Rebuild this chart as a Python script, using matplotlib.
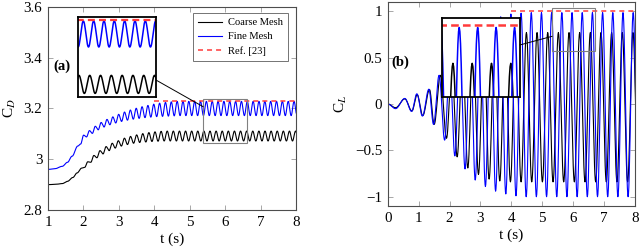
"""
Drag / lift coefficient history, coarse vs fine mesh, with zoom insets.
"""
import numpy as np
import matplotlib
matplotlib.use('Agg')
import matplotlib.pyplot as plt
from matplotlib.patches import Rectangle, ConnectionPatch

plt.rcParams['font.family'] = ['Liberation Serif', 'DejaVu Serif']
plt.rcParams['mathtext.fontset'] = 'stix'
plt.rcParams['lines.scale_dashes'] = False

# ---------------- data ----------------
# each series: a smooth start (t, value), then alternating extrema
# "first" extremum at t_first + k*period, "second" half a period later,
# steady values used once the transient lists run out.

# (a) C_D, coarse mesh (first = peak, second = trough)
cd_coarse_start_t = [1.0, 1.2, 1.4, 1.55, 1.7, 1.82]
cd_coarse_start_v = [2.900, 2.901, 2.904, 2.913, 2.928, 2.946]
cd_coarse_t_first = 1.95
cd_coarse_period = 0.1725
cd_coarse_first = [2.965, 2.990, 3.015, 3.034, 3.050, 3.063, 3.073, 3.083, 3.090,
                   3.096, 3.101, 3.105, 3.108, 3.110]
cd_coarse_second = [2.968, 2.988, 3.006, 3.021, 3.034, 3.044, 3.052, 3.058, 3.063,
                    3.066, 3.068, 3.070, 3.071, 3.072]
cd_coarse_steady = [3.111, 3.072]

# (a) C_D, fine mesh
cd_fine_start_t = [1.0, 1.2, 1.4, 1.55, 1.68]
cd_fine_start_v = [2.960, 2.963, 2.972, 2.988, 3.012]
cd_fine_t_first = 1.84
cd_fine_period = 0.165
cd_fine_first = [3.052, 3.095, 3.113, 3.130, 3.145, 3.157, 3.167, 3.177, 3.186,
                 3.194, 3.201, 3.207, 3.212, 3.217, 3.221, 3.224, 3.226]
cd_fine_second = [3.060, 3.088, 3.102, 3.116, 3.127, 3.136, 3.143, 3.149, 3.154,
                  3.158, 3.161, 3.164, 3.166, 3.168, 3.169, 3.170, 3.171]
cd_fine_steady = [3.228, 3.172]

cd_ref_t = [4.0, 8.0]
cd_ref_v = [3.23, 3.23]

# (b) C_L, coarse mesh (first = trough, second = peak)
cl_coarse_start_t = [0.0, 0.25, 0.55, 0.78, 0.95, 1.13, 1.35, 1.50, 1.70]
cl_coarse_start_v = [0.0, -0.04, 0.055, -0.075, 0.10, -0.125, 0.155, -0.22, 0.31]
cl_coarse_t_first = 1.90
cl_coarse_period = 0.345
cl_coarse_first = [-0.37, -0.57, -0.69, -0.76, -0.81, -0.83]
cl_coarse_second = [0.42, 0.55, 0.64, 0.70, 0.74, 0.76]
cl_coarse_steady = [-0.84, 0.77]

# (b) C_L, fine mesh
cl_fine_start_t = [0.0, 0.25, 0.55, 0.77, 0.94, 1.12, 1.33, 1.48, 1.66]
cl_fine_start_v = [0.0, -0.05, 0.06, -0.08, 0.11, -0.13, 0.16, -0.22, 0.31]
cl_fine_t_first = 1.84
cl_fine_period = 0.33
cl_fine_first = [-0.39, -0.56, -0.70, -0.82, -0.89, -0.94, -0.97, -0.99]
cl_fine_second = [0.45, 0.60, 0.73, 0.83, 0.90, 0.94, 0.97, 0.98]
cl_fine_steady = [-1.0, 0.985]

cl_ref_t = [4.0, 8.0]
cl_ref_v = [1.0, 1.0]

# zoom windows of the insets
zoom_a_t = [5.38, 6.63]
zoom_a_v = [3.065, 3.236]
zoom_b_t = [5.32, 6.72]
zoom_b_v = [0.57, 1.04]


def build_extrema(start_t, start_v, t_first, period, first, second, steady, t_end=8.0):
    ts, vs = list(start_t), list(start_v)
    k = 0
    while t_first + k * period <= t_end + period:
        ts.append(t_first + k * period)
        vs.append(first[k] if k < len(first) else steady[0])
        ts.append(t_first + (k + 0.5) * period)
        vs.append(second[k] if k < len(second) else steady[1])
        k += 1
    return ts, vs


def smooth(ts, vs, n=14):
    # half-cosine arc between successive extrema
    xs, ys = [], []
    for i in range(len(ts) - 1):
        s = np.linspace(0, 1, n, endpoint=False)
        w = (1 - np.cos(np.pi * s)) / 2
        xs.append(ts[i] + (ts[i + 1] - ts[i]) * s)
        ys.append(vs[i] + (vs[i + 1] - vs[i]) * w)
    xs.append([ts[-1]])
    ys.append([vs[-1]])
    return np.concatenate(xs), np.concatenate(ys)


cdc = smooth(*build_extrema(cd_coarse_start_t, cd_coarse_start_v, cd_coarse_t_first,
                            cd_coarse_period, cd_coarse_first, cd_coarse_second, cd_coarse_steady))
cdf = smooth(*build_extrema(cd_fine_start_t, cd_fine_start_v, cd_fine_t_first,
                            cd_fine_period, cd_fine_first, cd_fine_second, cd_fine_steady))
clc = smooth(*build_extrema(cl_coarse_start_t, cl_coarse_start_v, cl_coarse_t_first,
                            cl_coarse_period, cl_coarse_first, cl_coarse_second, cl_coarse_steady))
clf = smooth(*build_extrema(cl_fine_start_t, cl_fine_start_v, cl_fine_t_first,
                            cl_fine_period, cl_fine_first, cl_fine_second, cl_fine_steady))

BLUE = (0, 0, 1)
RED = '#ff3b3b'
FRAME = '0.3'

fig = plt.figure(figsize=(6.4, 2.5), dpi=100)
ax_a = fig.add_axes([0.075, 0.16, 0.3875, 0.812])
ax_b = fig.add_axes([0.606, 0.176, 0.386, 0.816])


def style(ax):
    for sp in ax.spines.values():
        sp.set_color(FRAME)
        sp.set_linewidth(0.8)
    ax.tick_params(direction='in', top=True, right=True, length=3.5, width=0.6,
                   color='0.6', labelsize=10.8, pad=4)


# ---- (a) C_D ----
ax_a.plot(*cdc, color='black', lw=0.8, label='Coarse Mesh')
ax_a.plot(*cdf, color=BLUE, lw=0.8, label='Fine Mesh')
ax_a.plot(cd_ref_t, cd_ref_v, color=RED, lw=1.1, dashes=(3.6, 2.9), label='Ref. [23]')
ax_a.set_xlim(1, 8)
ax_a.set_ylim(2.8, 3.6)
ax_a.set_xticks(range(1, 9))
ax_a.set_yticks([2.8, 3.0, 3.2, 3.4, 3.6])
ax_a.set_yticklabels(['2.8', '3', '3.2', '3.4', '3.6'])
ax_a.set_xlabel('t (s)', fontsize=11, labelpad=3)
ax_a.set_ylabel(r'C$_D$', fontsize=11, labelpad=4)
style(ax_a)
ax_a.text(1.15, 3.365, '(a)', fontsize=10.5, fontweight='bold', va='center')
leg = ax_a.legend(loc='upper right', bbox_to_anchor=(0.969, 0.972), fontsize=7.6,
                  frameon=True, fancybox=False, edgecolor='0.45', framealpha=1,
                  handlelength=2.2, handletextpad=0.6, labelspacing=0.45,
                  borderpad=0.5, borderaxespad=0)
leg.get_frame().set_linewidth(0.7)
ax_a.add_patch(Rectangle((zoom_a_t[0], zoom_a_v[0]), zoom_a_t[1] - zoom_a_t[0],
                         zoom_a_v[1] - zoom_a_v[0], fill=False, ec='0.5', lw=0.8, zorder=5))

ins_a = fig.add_axes([0.1214, 0.6132, 0.1223, 0.3176])
ins_a.plot(*cdc, color='black', lw=1.1)
ins_a.plot(*cdf, color=BLUE, lw=1.1)
ins_a.plot(cd_ref_t, cd_ref_v, color=RED, lw=1.6, dashes=(5, 3))
ins_a.set_xlim(*zoom_a_t)
ins_a.set_ylim(*zoom_a_v)
ins_a.set_xticks([])
ins_a.set_yticks([])
for sp in ins_a.spines.values():
    sp.set_linewidth(1.3)
fig.add_artist(ConnectionPatch(xyA=(1.0, 0.21), coordsA=ins_a.transAxes,
                               xyB=(zoom_a_t[0], 3.207), coordsB=ax_a.transData,
                               color='black', lw=0.7))

# ---- (b) C_L ----
ax_b.plot(*clc, color='black', lw=0.8)
ax_b.plot(*clf, color=BLUE, lw=0.8)
ax_b.plot(cl_ref_t, cl_ref_v, color=RED, lw=1.1, dashes=(3.6, 2.9))
ax_b.set_xlim(0, 8)
ax_b.set_ylim(-1.1, 1.1)
ax_b.set_xticks(range(0, 9))
ax_b.set_yticks([-1, -0.5, 0, 0.5, 1])
ax_b.set_yticklabels(['\u22121', '\u22120.5', '0', '0.5', '1'])
ax_b.set_xlabel('t (s)', fontsize=11, labelpad=3)
ax_b.set_ylabel(r'C$_L$', fontsize=11, labelpad=4)
style(ax_b)
ax_b.text(0.12, 0.455, '(b)', fontsize=10.5, fontweight='bold', va='center')
ax_b.add_patch(Rectangle((zoom_b_t[0], zoom_b_v[0]), zoom_b_t[1] - zoom_b_t[0],
                         zoom_b_v[1] - zoom_b_v[0], fill=False, ec='0.5', lw=0.8, zorder=5))

ins_b = fig.add_axes([0.690, 0.6132, 0.1223, 0.3136])
ins_b.plot(*clc, color='black', lw=1.1)
ins_b.plot(*clf, color=BLUE, lw=1.1)
ins_b.plot(cl_ref_t, cl_ref_v, color=RED, lw=1.8, dashes=(5.5, 3))
ins_b.set_xlim(*zoom_b_t)
ins_b.set_ylim(*zoom_b_v)
ins_b.set_xticks([])
ins_b.set_yticks([])
for sp in ins_b.spines.values():
    sp.set_linewidth(1.3)
fig.add_artist(ConnectionPatch(xyA=(1.0, 0.66), coordsA=ins_b.transAxes,
                               xyB=(zoom_b_t[0], 0.73), coordsB=ax_b.transData,
                               color='black', lw=0.7))

fig.savefig('out.png', dpi=100)
